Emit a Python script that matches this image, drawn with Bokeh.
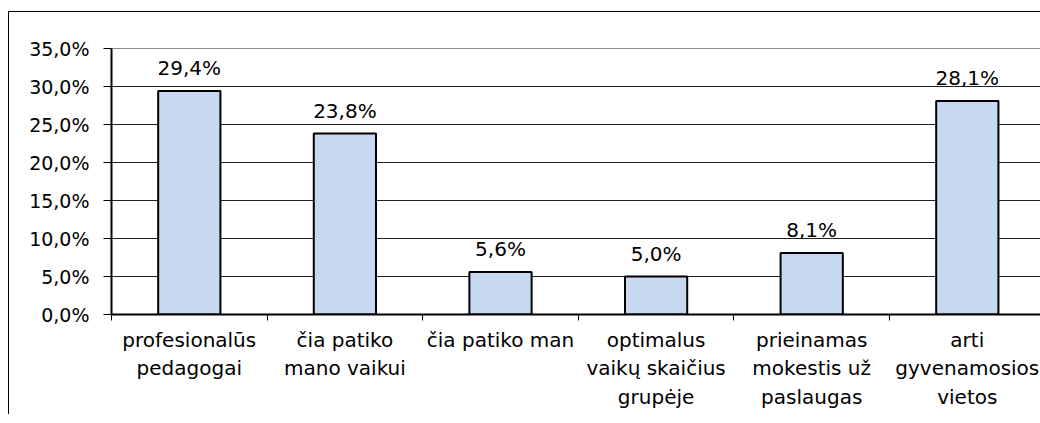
from bokeh.plotting import figure
from bokeh.models import FixedTicker, Range1d, ColumnDataSource, LabelSet
from bokeh.core.properties import value
from bokeh.embed import file_html
from bokeh.resources import INLINE

categories = ["profesionalūs\npedagogai", "čia patiko\nmano vaikui", "čia patiko man",
              "optimalus\nvaikų skaičius\ngrupėje", "prieinamas\nmokestis už\npaslaugas",
              "arti\ngyvenamosios\nvietos"]
values = [29.4, 23.8, 5.6, 5.0, 8.1, 28.1]
value_labels = ["29,4%", "23,8%", "5,6%", "5,0%", "8,1%", "28,1%"]
y_ticks = [0, 5, 10, 15, 20, 25, 30, 35]
y_tick_labels = ["0,0%", "5,0%", "10,0%", "15,0%", "20,0%", "25,0%", "30,0%", "35,0%"]

FONT = "DejaVu Sans"

xs = [i + 0.5 for i in range(len(categories))]
src = ColumnDataSource(dict(x=xs, top=values, lab=value_labels))

p = figure(frame_width=929, frame_height=266, output_backend="svg", toolbar_location=None,
           x_range=Range1d(0, 929 / 155.6), y_range=Range1d(0, 35),
           min_border_left=102, min_border_top=36, min_border_right=0, min_border_bottom=100)
p.styles = {"border-left": "1px solid black", "border-top": "1px solid black",
            "margin-left": "8px", "margin-top": "11px"}

p.vbar(x="x", top="top", width=0.4, bottom=0, source=src,
       fill_color="#c6d9f1", line_color="black", line_width=2)

labels = LabelSet(x="x", y="top", text="lab", source=src, text_align="center",
                  text_baseline="alphabetic", y_offset=16, text_font=value(FONT),
                  text_font_size="20px", text_color="black")
p.add_layout(labels)

p.outline_line_color = "#8c8c8c"
p.outline_line_width = 1
p.xgrid.visible = False
p.ygrid.ticker = FixedTicker(ticks=[5, 10, 15, 20, 25, 30])
p.ygrid.grid_line_color = "#202020"
p.ygrid.grid_line_width = 1

ya = p.yaxis[0]
ya.ticker = FixedTicker(ticks=y_ticks)
ya.major_label_overrides = {t: l for t, l in zip(y_ticks, y_tick_labels)}
ya.major_label_text_font = FONT
ya.major_label_text_font_size = "19px"
ya.major_label_text_color = "black"
ya.major_tick_out = 8
ya.major_tick_in = 0
ya.minor_tick_out = 0
ya.minor_tick_in = 0
ya.axis_line_width = 2
ya.axis_line_color = "black"
ya.major_tick_line_color = "black"
ya.major_label_standoff = 14

xa = p.xaxis[0]
xa.ticker = FixedTicker(ticks=xs, minor_ticks=list(range(len(categories) + 1)))
xa.major_label_overrides = {x: c for x, c in zip(xs, categories)}
xa.major_label_text_font = FONT
xa.major_label_text_font_size = "20px"
xa.major_label_text_color = "black"
xa.major_label_text_line_height = 1.2
xa.major_tick_out = 0
xa.major_tick_in = 0
xa.minor_tick_out = 6
xa.minor_tick_in = 0
xa.minor_tick_line_color = "black"
xa.axis_line_width = 2
xa.axis_line_color = "black"
xa.major_label_standoff = 7

open("out.html", "w").write(file_html(p, INLINE))
